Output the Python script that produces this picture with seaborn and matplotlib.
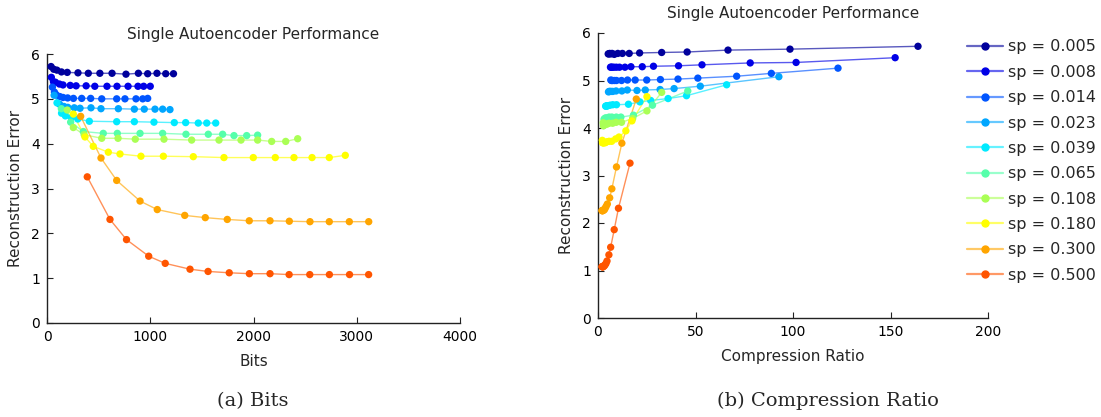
import numpy as np
import pandas as pd
import matplotlib
matplotlib.use("Agg")
import matplotlib.pyplot as plt
from matplotlib.lines import Line2D
import seaborn as sns

# ---------------- data ----------------
sp_labels = ["sp = 0.005", "sp = 0.008", "sp = 0.014", "sp = 0.023", "sp = 0.039",
             "sp = 0.065", "sp = 0.108", "sp = 0.180", "sp = 0.300", "sp = 0.500"]
colors = ["#00009c", "#0000e6", "#0055ff", "#00a6ff", "#00eaff",
          "#55ffaa", "#aaff55", "#ffff00", "#ffa500", "#ff5500"]

ORIGINAL_BITS = 6400  # compression ratio = ORIGINAL_BITS / bits

bits_005 = [39, 65, 96, 140, 196, 300, 400, 512, 630, 765, 885, 975, 1065, 1150, 1225]
err_005 = [5.72, 5.66, 5.64, 5.60, 5.59, 5.58, 5.57, 5.57, 5.57, 5.55, 5.57, 5.56, 5.57, 5.56, 5.56]
bits_008 = [42, 63, 82, 120, 155, 225, 282, 379, 463, 581, 678, 785, 881, 936, 1000]
err_008 = [5.48, 5.38, 5.37, 5.33, 5.31, 5.30, 5.29, 5.29, 5.28, 5.28, 5.28, 5.28, 5.28, 5.28, 5.28]
bits_014 = [52, 72, 90, 125, 156, 200, 256, 336, 423, 530, 675, 755, 862, 927, 975]
err_014 = [5.26, 5.15, 5.09, 5.05, 5.03, 5.02, 5.01, 5.01, 5.01, 5.00, 5.00, 5.00, 5.00, 5.00, 5.01]
bits_023 = [69, 122, 164, 201, 264, 320, 426, 523, 691, 846, 942, 1046, 1120, 1191]
err_023 = [5.08, 4.88, 4.83, 4.81, 4.80, 4.79, 4.80, 4.78, 4.78, 4.77, 4.77, 4.77, 4.77, 4.76]
bits_039 = [97, 141, 178, 237, 298, 410, 675, 846, 1036, 1233, 1343, 1465, 1547, 1634]
err_039 = [4.91, 4.68, 4.62, 4.58, 4.55, 4.50, 4.49, 4.49, 4.48, 4.47, 4.47, 4.46, 4.46, 4.46]
bits_065 = [139, 229, 352, 545, 681, 901, 1120, 1346, 1562, 1701, 1811, 1934, 2040]
err_065 = [4.78, 4.48, 4.27, 4.23, 4.23, 4.23, 4.23, 4.21, 4.21, 4.21, 4.18, 4.18, 4.19]
bits_108 = [196, 255, 360, 530, 688, 855, 1133, 1401, 1666, 1879, 2040, 2176, 2312, 2428]
err_108 = [4.75, 4.36, 4.20, 4.12, 4.12, 4.10, 4.10, 4.08, 4.08, 4.08, 4.08, 4.05, 4.05, 4.11]
bits_180 = [255, 368, 448, 594, 707, 910, 1127, 1417, 1714, 1998, 2211, 2392, 2567, 2734, 2889]
err_180 = [4.66, 4.15, 3.94, 3.81, 3.77, 3.72, 3.72, 3.71, 3.69, 3.69, 3.69, 3.69, 3.69, 3.69, 3.74]
bits_300 = [326, 523, 675, 901, 1068, 1334, 1533, 1746, 1959, 2160, 2347, 2547, 2734, 2928, 3116]
err_300 = [4.61, 3.68, 3.18, 2.72, 2.53, 2.40, 2.35, 2.31, 2.28, 2.28, 2.27, 2.26, 2.26, 2.26, 2.26]
bits_500 = [390, 610, 770, 985, 1145, 1385, 1560, 1765, 1960, 2160, 2345, 2545, 2735, 2930, 3115]
err_500 = [3.26, 2.31, 1.86, 1.49, 1.33, 1.20, 1.15, 1.12, 1.10, 1.10, 1.08, 1.08, 1.08, 1.08, 1.08]

bits_all = [bits_005, bits_008, bits_014, bits_023, bits_039, bits_065, bits_108, bits_180, bits_300, bits_500]
err_all = [err_005, err_008, err_014, err_023, err_039, err_065, err_108, err_180, err_300, err_500]

frames = []
for lab, b, e in zip(sp_labels, bits_all, err_all):
    b = np.asarray(b, float)
    frames.append(pd.DataFrame({"sp": lab, "bits": b, "cr": ORIGINAL_BITS / b, "err": e}))
df = pd.concat(frames, ignore_index=True)
palette = dict(zip(sp_labels, colors))

# ---------------- style ----------------
sns.set_style("ticks")
plt.rcParams["font.family"] = ["DejaVu Sans"]
plt.rcParams["xtick.direction"] = "in"
plt.rcParams["ytick.direction"] = "in"
plt.rcParams["axes.linewidth"] = 1.0
plt.rcParams["axes.edgecolor"] = "#222222"

fig = plt.figure(figsize=(11.01, 4.17), dpi=100)
ax1 = fig.add_axes([47 / 1101, 1 - 323 / 417, 413 / 1101, 269 / 417])
ax2 = fig.add_axes([598 / 1101, 1 - 318 / 417, 390 / 1101, 285 / 417])


def draw(ax, xcol):
    sns.lineplot(data=df, x=xcol, y="err", hue="sp", palette=palette, hue_order=sp_labels,
                 estimator=None, sort=True, linewidth=1.0, alpha=0.65, legend=False, ax=ax)
    sns.scatterplot(data=df, x=xcol, y="err", hue="sp", palette=palette, hue_order=sp_labels,
                    s=28, linewidth=0, legend=False, ax=ax, zorder=3)
    ax.set_ylim(0, 6)
    ax.set_yticks(range(0, 7))
    sns.despine(ax=ax)
    ax.tick_params(labelsize=10, length=4, width=0.8, pad=5, colors="#222222", labelcolor="black")
    ax.set_title("Single Autoencoder Performance", fontsize=11, pad=11)
    ax.set_ylabel("Reconstruction Error", fontsize=11, labelpad=6)


draw(ax1, "bits")
ax1.set_xlim(0, 4000)
ax1.set_xticks([0, 1000, 2000, 3000, 4000])
ax1.set_xlabel("Bits", fontsize=11, labelpad=7)

draw(ax2, "cr")
ax2.set_xlim(0, 200)
ax2.set_xticks([0, 50, 100, 150, 200])
ax2.set_xlabel("Compression Ratio", fontsize=11, labelpad=7)

handles = []
for c in colors:
    ln = Line2D([], [], color=c, linewidth=1.6, alpha=0.6)
    mk = Line2D([], [], color=c, marker="o", markersize=5, linestyle="none")
    handles.append((ln, mk))
ax2.legend(handles, sp_labels, loc="upper left", bbox_to_anchor=(1 - 27 / 390, 1.0), frameon=False,
           fontsize=11.5, handlelength=2.2, handletextpad=0.35, labelspacing=0.65,
           borderaxespad=0.0, borderpad=0.4)

fig.text(253 / 1101, 1 - 401 / 417, "(a) Bits", ha="center", va="center",
         fontsize=14, family=["DejaVu Serif"])
fig.text(828 / 1101, 1 - 401 / 417, "(b) Compression Ratio", ha="center", va="center",
         fontsize=14, family=["DejaVu Serif"])

fig.savefig("out.png", dpi=100)
